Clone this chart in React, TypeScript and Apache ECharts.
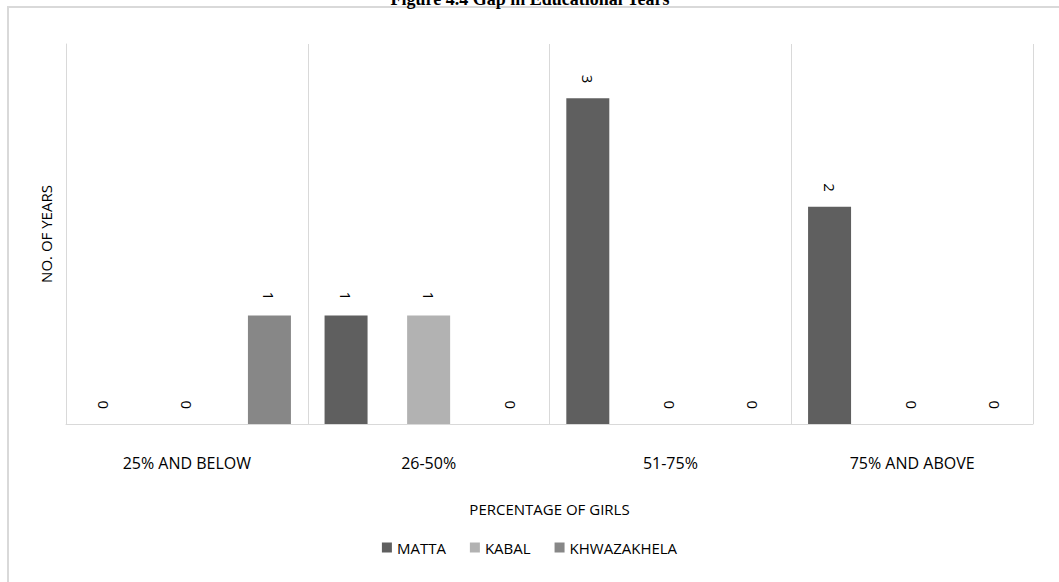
import React, { useEffect, useRef } from "react";
import * as echarts from "echarts";

const categories = ["25% AND BELOW", "26-50%", "51-75%", "75% AND ABOVE"];
const matta = [0, 1, 3, 2];
const kabal = [0, 1, 0, 0];
const khwazakhela = [1, 0, 0, 0];
const seriesNames = ["MATTA", "KABAL", "KHWAZAKHELA"];
const colors = ["#5f5f5f", "#b2b2b2", "#878787"];
const titleText = "Figure 4.4 Gap in Educational Years";

const FONT = "'Open Sans', 'Liberation Sans', sans-serif";

export default function App() {
  const ref = useRef<HTMLDivElement>(null);
  useEffect(() => {
    if (!ref.current) return;
    const chart = echarts.init(ref.current, undefined, { renderer: "svg" });
    const data = [matta, kabal, khwazakhela];
    const label = {
      show: true,
      position: "top",
      rotate: -90,
      align: "right",
      verticalAlign: "middle",
      distance: 15,
      fontFamily: FONT,
      fontSize: 15,
      color: "#000",
    };
    chart.setOption({
      animation: false,
      backgroundColor: "#fff",
      color: colors,
      graphic: [
        {
          type: "rect",
          shape: { x: 8, y: 7, width: 1200, height: 700 },
          style: { fill: "none", stroke: "#d9d9d9", lineWidth: 2 },
          z: 0,
        },
        {
          type: "text",
          x: 530,
          y: 8,
          style: {
            text: titleText,
            font: "bold 18px 'Liberation Serif', 'Times New Roman', serif",
            fill: "#000",
            textAlign: "center",
            textVerticalAlign: "bottom",
          },
        },
      ],
      legend: {
        bottom: 22,
        left: "center",
        data: seriesNames,
        icon: "rect",
        itemWidth: 10,
        itemHeight: 10,
        itemGap: 24,
        textStyle: { fontFamily: FONT, fontSize: 15, color: "#000" },
      },
      grid: { left: 66, right: 26, top: 44, bottom: 158 },
      xAxis: {
        type: "category",
        data: categories,
        axisLine: { lineStyle: { color: "#d9d9d9", width: 1 } },
        axisTick: { show: false },
        splitLine: { show: true, interval: 0, lineStyle: { color: "#d9d9d9", width: 1 } },
        axisLabel: {
          margin: 31,
          fontFamily: FONT,
          fontSize: 16,
          color: "#000",
          interval: 0,
        },
        name: "PERCENTAGE OF GIRLS",
        nameLocation: "middle",
        nameGap: 77,
        nameTextStyle: { fontFamily: FONT, fontSize: 15, color: "#000" },
      },
      yAxis: {
        type: "value",
        min: 0,
        max: 3.5,
        axisLine: { show: true, lineStyle: { color: "#d9d9d9" } },
        axisLabel: { show: false },
        axisTick: { show: false },
        splitLine: { show: false },
        name: "NO. OF YEARS",
        nameLocation: "middle",
        nameGap: 13,
        nameTextStyle: { fontFamily: FONT, fontSize: 15, color: "#000" },
      },
      series: seriesNames.map((n, i) => ({
        name: n,
        type: "bar",
        data: data[i],
        barWidth: 43,
        barGap: "92%",
        barCategoryGap: "14%",
        label,
      })),
    });
    return () => chart.dispose();
  }, []);
  return (
    <div
      ref={ref}
      style={{ position: "fixed", left: 0, top: 0, width: 1059, height: 582 }}
    />
  );
}
